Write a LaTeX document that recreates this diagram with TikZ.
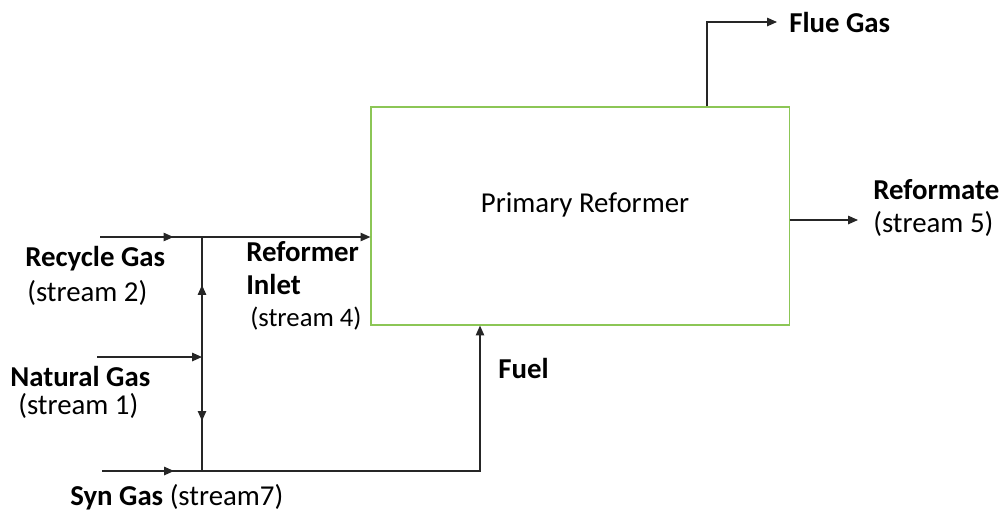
\documentclass[tikz,border=0pt]{standalone}
\usepackage{fontspec}
\setmainfont{Carlito}
\usetikzlibrary{arrows.meta, positioning, decorations.markings}

\definecolor{boxgreen}{RGB}{140,198,86}

\tikzset{
  pipe/.style={line width=0.9pt, draw=black!85},
  flow/.style={pipe, -{Triangle[length=7pt,width=6pt]}},
  midflow/.style={pipe, postaction={decorate}, decoration={markings,
      mark=at position #1 with {\arrow{Triangle[length=7pt,width=6pt]}}}},
  lbl/.style={anchor=west, inner sep=0pt, align=left, font=\fontsize{20.5}{24}\selectfont},
}

\begin{document}
\begin{tikzpicture}[x=0.025cm, y=-0.025cm]
\useasboundingbox (0,0) rectangle (1003,515);

% Reformer box
\node[draw=boxgreen, line width=0.8pt, minimum width=10.45cm, minimum height=5.45cm, inner sep=0pt] (reformer) at (580,216) {};
\node[lbl, anchor=center] (title) at (585,205) {Primary Reformer};

% Stream points
\coordinate (rg-in) at (100,237);
\coordinate (ng-in) at (97,357);
\coordinate (sg-in) at (102,471);
\coordinate (j1) at (202,237);
\coordinate (j2) at (202,357);
\coordinate (j3) at (202,471);
\coordinate (fuelturn) at (480,471);
\coordinate (flueup) at (707,22);
\coordinate (flueout) at (777,22);
\coordinate (refout) at (858,220);

% Feed lines
\draw[midflow=0.72] (rg-in) -- (j1);
\draw[flow] (j1) -- (reformer.west |- j1);
\draw[flow] (ng-in) -- (j2);
\draw[midflow=0.6] (j2) -- (j1);
\draw[midflow=0.56] (j2) -- (j3);
\draw[midflow=0.72] (sg-in) -- (j3);
\draw[flow] (j3) -- (fuelturn) -- (fuelturn |- reformer.south);

% Products
\draw[flow] (flueup |- reformer.north) -- (flueup) -- (flueout);
\draw[flow] (reformer.east |- refout) -- (refout);

% Labels
\node[lbl] (recycle) at (25,276) {\textbf{Recycle Gas}\\[1pt]\hspace*{0.05cm}(stream 2)};
\node[lbl] (inlet) at (246,286) {\textbf{Reformer}\\[-1pt]\textbf{Inlet}\\[-1pt]\hspace*{0.1cm}{\fontsize{19}{24}\selectfont(stream 4)}};
\node[lbl] (natural) at (10,392) {\textbf{Natural Gas}\\[-4pt]\hspace*{0.2cm}(stream 1)};
\node[lbl] (syngas) at (70,497) {\textbf{Syn Gas} (stream7)};
\node[lbl] (fuel) at (498,368) {\textbf{Fuel}};
\node[lbl] (flue) at (789,22) {\textbf{Flue Gas}};
\node[lbl] (reformate) at (873,208) {\textbf{Reformate}\\[-1pt](stream 5)};

\end{tikzpicture}
\end{document}
